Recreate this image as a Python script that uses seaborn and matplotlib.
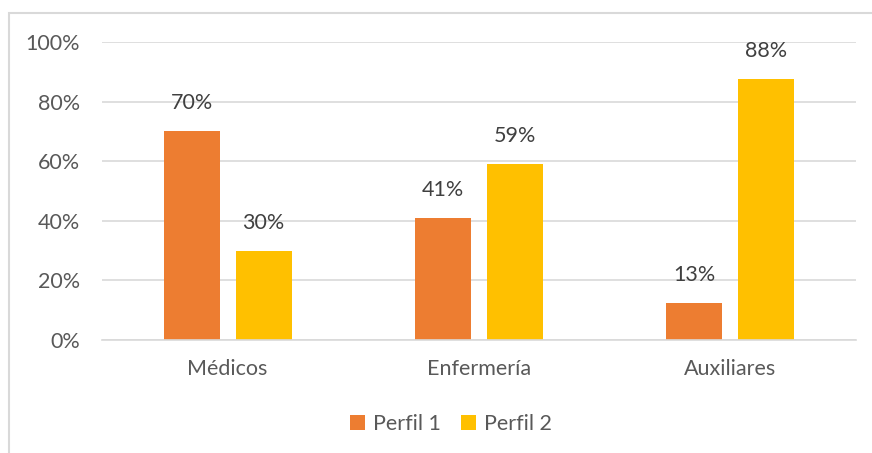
import math
import matplotlib
matplotlib.use("Agg")
import matplotlib.pyplot as plt
from matplotlib.patches import Rectangle
from matplotlib.ticker import FixedLocator
import seaborn as sns
import pandas as pd

categories = ["Médicos", "Enfermería", "Auxiliares"]
series_names = ["Perfil 1", "Perfil 2"]
perfil1 = [70, 41, 12.5]
perfil2 = [30, 59, 87.5]
y_ticks = [0, 20, 40, 60, 80, 100]
y_tick_labels = ["0%", "20%", "40%", "60%", "80%", "100%"]

colors = ["#ED7D31", "#FFC000"]

df = pd.DataFrame({
    "cat": categories * 2,
    "serie": [series_names[0]] * 3 + [series_names[1]] * 3,
    "val": perfil1 + perfil2,
})

sns.set_theme(style="white")
plt.rcParams["font.family"] = ["Lato", "DejaVu Sans"]

FS = 15.5

fig = plt.figure(figsize=(8.72, 4.53), dpi=100)
ax = fig.add_axes([102 / 872, 1 - 340 / 453, (856 - 102) / 872, (340 - 42) / 453])

sns.barplot(data=df, x="cat", y="val", hue="serie", palette=colors,
            width=0.574, gap=0.222, ax=ax, saturation=1, edgecolor="none")

ax.set_ylim(0, 100)
ax.set_xlim(-0.5, 2.5)
ax.set_yticks(y_ticks)
ax.set_yticklabels(y_tick_labels)
ax.yaxis.grid(True, color="#D9D9D9", linewidth=1.2)
ax.set_axisbelow(True)
for s in ["top", "right", "left"]:
    ax.spines[s].set_visible(False)
ax.spines["bottom"].set_color("#D9D9D9")
ax.spines["bottom"].set_linewidth(1.2)
ax.set_xlabel("")
ax.set_ylabel("")
ax.tick_params(axis="y", length=0, pad=16, labelsize=FS, labelcolor="#595959")
ax.tick_params(axis="x", which="major", length=0, pad=14, labelsize=FS, labelcolor="#595959")
ax.xaxis.set_minor_locator(FixedLocator([-0.5, 0.5, 1.5, 2.5]))
ax.tick_params(axis="x", which="minor", length=5, width=1.2, color="#D9D9D9", direction="out")

for cont in ax.containers:
    for bar in cont:
        v = bar.get_height()
        ax.annotate(f"{math.floor(v + 0.5)}%", (bar.get_x() + bar.get_width() / 2, v),
                    xytext=(0, 13), textcoords="offset points", ha="center", va="bottom",
                    fontsize=FS, color="#404040")

leg = ax.legend(loc="center", bbox_to_anchor=(451 / 872, 1 - 424 / 453),
                bbox_transform=fig.transFigure, ncol=2, frameon=False,
                fontsize=FS, handlelength=0.7, handleheight=0.7, handletextpad=0.4,
                columnspacing=0.9)
for t in leg.get_texts():
    t.set_color("#595959")

fig.patches.append(Rectangle((9 / 872, -0.1), 1.2, 1.1 - 13 / 453, transform=fig.transFigure,
                             fill=False, edgecolor="#D9D9D9", linewidth=1.5, clip_on=False))

fig.savefig("out.png", dpi=100, facecolor="white")
